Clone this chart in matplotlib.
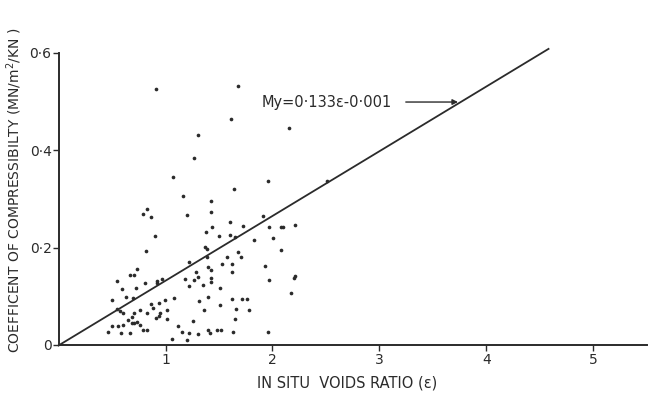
import numpy as np
import matplotlib
matplotlib.use('Agg')
import matplotlib.pyplot as plt

# in situ voids ratio (e) vs coefficient of compressibility
voids = [1.266, 1.067, 1.166, 1.198, 1.425, 1.422, 1.643, 1.958, 0.787, 0.824,
         0.862, 0.905, 0.821, 1.379, 1.432, 1.503, 1.603, 1.721, 1.600, 1.650,
         1.908, 1.967, 2.079, 2.095, 2.210, 1.830, 2.007, 2.077, 1.369, 1.385,
         1.675, 1.703, 1.578, 1.619, 1.619, 1.385, 1.525, 1.222, 1.400, 1.422,
         1.285, 1.182, 1.269, 1.304, 1.222, 1.353, 1.422, 1.425, 1.509, 1.933,
         1.970, 2.210, 2.204, 2.170, 1.082, 1.310, 1.400, 1.363, 1.509, 1.619,
         1.712, 1.759, 1.659, 1.780, 1.652, 1.260, 1.120, 1.157, 1.217, 1.304,
         1.394, 1.416, 1.479, 1.519, 1.634, 1.958, 1.064, 1.201, 0.497, 0.544,
         0.596, 0.631, 0.668, 0.706, 0.731, 0.724, 0.808, 0.693, 0.550, 0.575,
         0.606, 0.762, 0.862, 0.886, 0.942, 0.949, 0.942, 0.998, 1.011, 1.017,
         0.908, 0.830, 0.706, 0.684, 0.652, 0.684, 0.706, 0.736, 0.606, 0.762,
         0.793, 0.830, 0.497, 0.559, 0.465, 0.584, 0.668, 0.923, 0.964, 0.918,
         0.911, 1.675, 1.609, 2.154, 1.307, 2.509]
comp = [0.385, 0.346, 0.306, 0.266, 0.296, 0.274, 0.320, 0.336, 0.270, 0.279,
        0.263, 0.224, 0.193, 0.233, 0.243, 0.224, 0.252, 0.245, 0.226, 0.221,
        0.265, 0.242, 0.242, 0.242, 0.246, 0.215, 0.219, 0.195, 0.202, 0.197,
        0.192, 0.180, 0.181, 0.166, 0.149, 0.180, 0.166, 0.170, 0.161, 0.153,
        0.149, 0.136, 0.133, 0.140, 0.121, 0.123, 0.138, 0.130, 0.118, 0.162,
        0.133, 0.142, 0.138, 0.107, 0.096, 0.090, 0.099, 0.072, 0.082, 0.094,
        0.094, 0.094, 0.073, 0.072, 0.053, 0.050, 0.038, 0.027, 0.024, 0.023,
        0.031, 0.024, 0.031, 0.031, 0.027, 0.027, 0.012, 0.010, 0.092, 0.131,
        0.114, 0.099, 0.144, 0.144, 0.156, 0.118, 0.127, 0.096, 0.073, 0.070,
        0.066, 0.072, 0.084, 0.075, 0.086, 0.065, 0.060, 0.092, 0.072, 0.053,
        0.055, 0.065, 0.065, 0.058, 0.051, 0.046, 0.045, 0.048, 0.041, 0.041,
        0.031, 0.031, 0.039, 0.039, 0.027, 0.025, 0.025, 0.132, 0.135, 0.127,
        0.525, 0.532, 0.464, 0.445, 0.431, 0.337]

slope = 0.133
intercept = -0.001
line_x = [0, 4.58]

xticks = [1, 2, 3, 4, 5]
yticks = [0, 0.2, 0.4, 0.6]
ytick_labels = ['0', '0·2', '0·4', '0·6']

ink = '#2b2b2b'

fig = plt.figure(figsize=(6.56, 3.98), dpi=100)
ax = fig.add_axes([0.0892, 0.1332, 0.897, 0.734])

ax.scatter(voids, comp, s=7, color=ink, zorder=3, linewidths=0)
lx = np.array(line_x)
ax.plot(lx, slope * lx + intercept, color=ink, lw=1.3, clip_on=False)

ax.annotate('', xy=(3.76, 0.499), xytext=(3.22, 0.499),
            arrowprops=dict(arrowstyle='-|>', color=ink, lw=1.0, mutation_scale=8))
ax.text(1.90, 0.499, 'My=0·133ε-0·001', fontsize=10.5, color=ink, va='center', ha='left')

ax.set_xlim(0, 5.5)
ax.set_ylim(0, 0.6)
ax.set_xticks(xticks)
ax.set_xticklabels([str(t) for t in xticks])
ax.set_yticks(yticks)
ax.set_yticklabels(ytick_labels)
for s in ['top', 'right']:
    ax.spines[s].set_visible(False)
for s in ['left', 'bottom']:
    ax.spines[s].set_color(ink)
    ax.spines[s].set_linewidth(1.4)
ax.tick_params(colors=ink, labelsize=10, length=4, width=1.0)
ax.tick_params(axis='x', pad=2)
ax.tick_params(axis='y', pad=1)

ax.set_xlabel('IN SITU  VOIDS RATIO (ε)', fontsize=10.5, color=ink, labelpad=3)
ax.set_ylabel('COEFFICENT OF COMPRESSIBILTY (MN/m$^2$/KN )', fontsize=10, color=ink)
ax.yaxis.set_label_coords(-0.058, 0.53)
ax.xaxis.set_label_coords(0.49, -0.105)

plt.savefig('out.png', dpi=100)
